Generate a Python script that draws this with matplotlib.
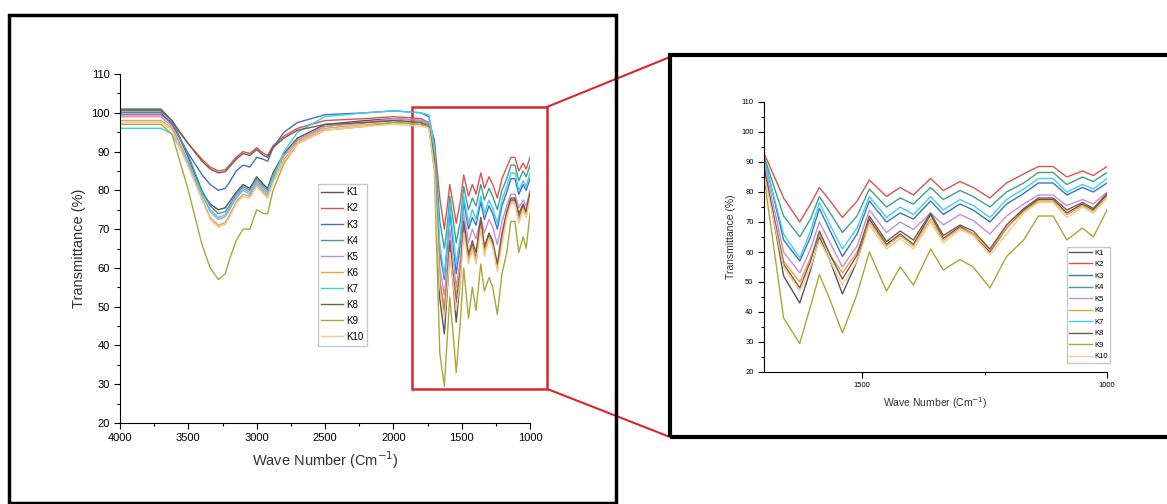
import matplotlib
matplotlib.use('Agg')
import matplotlib.pyplot as plt
from matplotlib.patches import Rectangle, ConnectionPatch
from matplotlib.ticker import MultipleLocator

plt.rcParams['font.family'] = ['Liberation Sans', 'DejaVu Sans']

# wave numbers (cm-1), descending
wave = [4000, 3700, 3620, 3500, 3400, 3340, 3280, 3230, 3200, 3150, 3100, 3050, 3000, 2950,
        2920, 2880, 2800, 2700, 2500, 2200, 2000, 1800, 1740,
        1700, 1660, 1627, 1605, 1587, 1565, 1540, 1510, 1485, 1450, 1422, 1395, 1360, 1334,
        1300, 1273, 1239, 1205, 1170, 1140, 1110, 1082, 1050, 1028, 1000]

labels = ['K1', 'K2', 'K3', 'K4', 'K5', 'K6', 'K7', 'K8', 'K9', 'K10']
colors = ['#555555', '#d9534f', '#3b73c4', '#3fa08c', '#c58fd6',
          '#f0a040', '#3fd0f0', '#7a5a4a', '#a8a83a', '#f5c890']

k1 = [100.8, 100.8, 98, 88.5, 79.5, 76.5, 75, 75.5, 77, 79.5, 81.5, 80.5, 83.5, 81.5,
      80.5, 84.5, 89.5, 93.5, 97, 98, 98.5, 98, 97.5,
      89, 52, 43, 54, 65, 57, 46, 57, 71, 62.5, 66, 62.5, 72.5, 64.5,
      68.5, 66, 60, 68, 74, 77.5, 77.5, 73, 76, 74, 79]
k2 = [99.5, 99.5, 97.5, 92, 88, 86, 85, 85.3, 86.5, 88.5, 90, 89.5, 91, 89.5,
      89, 91.5, 94, 96, 98, 98.5, 99, 98.5, 97.5,
      93, 78, 70, 76, 81.5, 77, 71.5, 77, 84, 78.5, 81.5, 79, 84.5, 80.5,
      83.5, 81.5, 78, 83, 86, 88.5, 88.5, 85, 87, 85.5, 88.5]
k3 = [100, 100, 97, 89.5, 84, 81.5, 80, 80.5, 82, 85, 86.5, 86, 88.5, 88,
      87.5, 91, 95, 97.5, 99.5, 100, 100.5, 100, 99,
      92, 64, 57, 65, 74.5, 67, 58.5, 66, 77, 70, 73, 71, 77, 72.5,
      76, 74, 70, 76, 79.5, 83, 83, 79, 81.5, 80, 83]
k4 = [101, 101, 98, 89, 80, 76, 74, 74.5, 76, 79, 81, 80, 83, 81,
      80, 84, 89, 93, 96.5, 97.5, 98, 97.5, 97,
      92, 72, 65, 71, 78.5, 73, 66.5, 72, 81, 75, 78, 76, 81.5, 77.5,
      80.5, 78.5, 75, 80, 83, 86.5, 86.5, 82.5, 85, 83.5, 86.5]
k5 = [99, 99, 96.5, 87.5, 79, 75, 73, 73.7, 75.5, 78.5, 80.5, 79.5, 82.5, 80.5,
      79.5, 83.5, 89, 93, 96.5, 97.5, 98.5, 98, 97.5,
      90, 60, 53, 61, 70, 63, 55, 62, 74, 66.5, 70, 67.5, 73, 69,
      72.5, 70.5, 66, 72, 76, 79, 79, 75.5, 77.5, 76, 80]
k6 = [98, 98, 96, 86.5, 78, 73, 71, 71.7, 73.5, 77, 79, 78.5, 81.5, 79.5,
      78.5, 82.5, 88, 92.5, 96, 97, 97.5, 97, 96.5,
      87, 57, 50, 58, 66, 59, 53, 60, 70, 62, 65.5, 62, 71, 64,
      68, 66, 60.5, 68, 73.5, 77, 77, 72.5, 75.5, 73.5, 78.5]
k7 = [96, 96, 94.5, 87, 79, 74.5, 72.5, 73.2, 75, 78, 80, 79, 82, 80,
      79, 83, 90, 95, 99, 100, 100.5, 100, 99.5,
      91, 66, 58, 67, 76.5, 69, 61, 68, 78.5, 71.5, 75, 72.5, 78.5, 74,
      77.5, 75.5, 71.5, 77.5, 81, 84.5, 84.5, 80, 82.5, 81, 84.5]
k8 = [100.5, 100.5, 98, 92, 87.5, 85.5, 84.5, 84.8, 86, 88, 89.5, 89, 90.5, 89,
      88.5, 91, 93.5, 95.5, 97, 97.5, 98, 97.5, 96.5,
      88, 56, 48, 57, 67, 59, 51, 59, 72, 63.5, 67, 64, 73, 65.5,
      69, 67, 61, 69, 74.5, 78, 78, 74, 76.5, 74.5, 79.5]
k9 = [97, 97, 94.5, 80, 66, 60, 57, 58.5, 62, 67, 70, 70, 75, 74,
      74, 80, 87, 92, 95.5, 96.5, 97.5, 97, 96.5,
      85, 38, 29.5, 42, 52.5, 44, 33, 46, 60, 47, 55, 49, 61, 54,
      57.5, 55, 48, 58.5, 64, 72, 72, 64, 68, 65, 74]
k10 = [97.5, 97.5, 95.5, 86, 77.5, 72.5, 70.5, 71.2, 73, 76.5, 78.5, 78, 81, 79,
       78, 82, 87.5, 92, 95.5, 96.5, 97, 96.5, 96,
       86, 55, 47, 55, 64, 57, 49, 57, 69, 61, 64.5, 61, 70, 63,
       67.5, 65.5, 59, 66, 73, 76.5, 76.5, 71.5, 75, 73, 78]
series = [k1, k2, k3, k4, k5, k6, k7, k8, k9, k10]


def style_axes(ax, tick_size, label_size, xmajor, xminor):
    ax.spines['top'].set_visible(False)
    ax.spines['right'].set_visible(False)
    ax.yaxis.set_major_locator(MultipleLocator(10))
    ax.yaxis.set_minor_locator(MultipleLocator(5))
    ax.xaxis.set_major_locator(MultipleLocator(xmajor))
    ax.xaxis.set_minor_locator(MultipleLocator(xminor))
    ax.tick_params(which='both', direction='out', labelsize=tick_size, width=0.8)
    ax.tick_params(which='major', length=4)
    ax.tick_params(which='minor', length=2)
    ax.set_ylim(20, 110)
    ax.set_ylabel('Transmittance (%)', fontsize=label_size, color='#333333')
    ax.set_xlabel('Wave Number (Cm$^{-1}$)', fontsize=label_size, color='#333333')


def main():
    W, H = 1167, 504
    fig = plt.figure(figsize=(11.67, 5.04), dpi=100)

    # outer black frames
    fig.patches.append(Rectangle((9 / W, 1 - 503 / H), 607 / W, 488 / H,
                                 transform=fig.transFigure, fill=False,
                                 edgecolor='black', linewidth=2.5))
    fig.patches.append(Rectangle((670 / W, 1 - 437 / H), 500 / W, 382 / H,
                                 transform=fig.transFigure, fill=False,
                                 edgecolor='black', linewidth=3))

    ax1 = fig.add_axes([120 / W, 1 - 423 / H, 410 / W, 349 / H])
    for vals, lab, c in zip(series, labels, colors):
        ax1.plot(wave, vals, color=c, linewidth=1.0, label=lab)
    ax1.set_xlim(4000, 1000)
    style_axes(ax1, 8, 10.5, 500, 250)
    ax1.legend(loc='upper left', bbox_to_anchor=(0.47, 0.70), fontsize=7,
               frameon=True, fancybox=False, edgecolor='#bbbbbb',
               handlelength=2.2, labelspacing=0.62, borderpad=0.4,
               handletextpad=0.3)

    # zoom region marker
    x0, x1, y0, y1 = 1863, 876, 28.8, 101.5
    ax1.add_patch(Rectangle((x0, y0), x1 - x0, y1 - y0, fill=False,
                            edgecolor='#d9262c', linewidth=1.8, clip_on=False))

    ax2 = fig.add_axes([764 / W, 1 - 372 / H, 343 / W, 270 / H])
    for vals, lab, c in zip(series, labels, colors):
        ax2.plot(wave, vals, color=c, linewidth=1.0, label=lab)
    ax2.set_xlim(1700, 1000)
    style_axes(ax2, 5.5, 7.5, 500, 250)
    ax2.legend(loc='lower right', bbox_to_anchor=(1.02, 0.02), fontsize=5.5,
               frameon=True, fancybox=False, edgecolor='#bbbbbb',
               handlelength=3.0, labelspacing=0.55, borderpad=0.3,
               handletextpad=0.3)

    for ya, yf in [(y1, 1 - 57 / H), (y0, 1 - 437 / H)]:
        con = ConnectionPatch(xyA=(x1, ya), coordsA=ax1.transData,
                              xyB=(670 / W, yf), coordsB=fig.transFigure,
                              color='#d9262c', linewidth=1.5)
        fig.add_artist(con)

    fig.savefig('out.png', dpi=100)


if __name__ == '__main__':
    main()
